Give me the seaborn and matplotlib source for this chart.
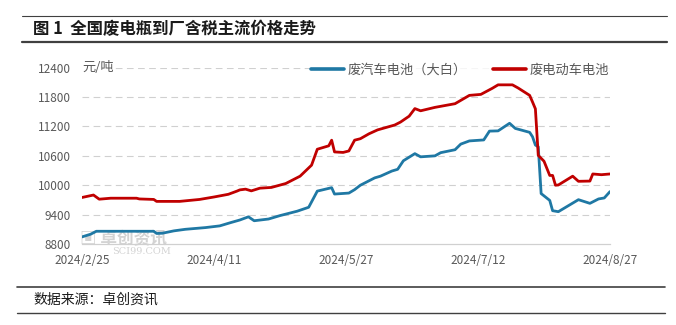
import matplotlib
matplotlib.use("Agg")
import matplotlib.pyplot as plt
from matplotlib.lines import Line2D
import pandas as pd
import seaborn as sns

# 废电动车电池 (red)
ev_dates = ["2024-02-25", "2024-02-29", "2024-03-02", "2024-03-06", "2024-03-15", "2024-03-16",
            "2024-03-21", "2024-03-22", "2024-03-30", "2024-04-06", "2024-04-11", "2024-04-16",
            "2024-04-19", "2024-04-20", "2024-04-22", "2024-04-24", "2024-04-27", "2024-05-01",
            "2024-05-06", "2024-05-11", "2024-05-15", "2024-05-17", "2024-05-21", "2024-05-22",
            "2024-05-23", "2024-05-26", "2024-05-28", "2024-05-30", "2024-06-01", "2024-06-04",
            "2024-06-07", "2024-06-13", "2024-06-15", "2024-06-18", "2024-06-20", "2024-06-22",
            "2024-06-27", "2024-07-04", "2024-07-09", "2024-07-13", "2024-07-17", "2024-07-19",
            "2024-07-24", "2024-07-26", "2024-07-30", "2024-07-31", "2024-08-01", "2024-08-02",
            "2024-08-04", "2024-08-06", "2024-08-07", "2024-08-08", "2024-08-09", "2024-08-14",
            "2024-08-16", "2024-08-20", "2024-08-21", "2024-08-24", "2024-08-27"]
ev_values = [9750, 9800, 9715, 9735, 9735, 9720,
             9710, 9670, 9670, 9710, 9760, 9815,
             9880, 9905, 9920, 9885, 9940, 9955,
             10035, 10185, 10410, 10735, 10805, 10920,
             10680, 10670, 10700, 10920, 10950, 11050,
             11130, 11230, 11290, 11410, 11565, 11520,
             11590, 11665, 11835, 11855, 11980, 12050,
             12050, 11985, 11835, 11700, 11560, 10610,
             10490, 10200, 10200, 10000, 10005, 10185,
             10080, 10085, 10230, 10215, 10230]

# 废汽车电池（大白） (blue)
car_dates = ["2024-02-25", "2024-02-28", "2024-03-01", "2024-03-21", "2024-03-22", "2024-03-24",
             "2024-03-28", "2024-04-01", "2024-04-08", "2024-04-13", "2024-04-17", "2024-04-20",
             "2024-04-23", "2024-04-25", "2024-04-30", "2024-05-04", "2024-05-10", "2024-05-14",
             "2024-05-17", "2024-05-22", "2024-05-23", "2024-05-28", "2024-05-30", "2024-06-01",
             "2024-06-06", "2024-06-08", "2024-06-12", "2024-06-14", "2024-06-16", "2024-06-20",
             "2024-06-22", "2024-06-27", "2024-06-29", "2024-07-04", "2024-07-06", "2024-07-09",
             "2024-07-14", "2024-07-16", "2024-07-19", "2024-07-23", "2024-07-25", "2024-07-30",
             "2024-07-31", "2024-08-01", "2024-08-02", "2024-08-03", "2024-08-06", "2024-08-07",
             "2024-08-09", "2024-08-11", "2024-08-16", "2024-08-20", "2024-08-23", "2024-08-25",
             "2024-08-27"]
car_values = [8945, 9000, 9060, 9060, 9015, 9020,
              9068, 9100, 9135, 9170, 9240, 9290,
              9355, 9275, 9310, 9380, 9470, 9550,
              9880, 9950, 9820, 9840, 9910, 10000,
              10150, 10185, 10290, 10325, 10500, 10645,
              10580, 10600, 10665, 10725, 10840, 10905,
              10925, 11105, 11110, 11265, 11160, 11080,
              10990, 10820, 10785, 9830, 9690, 9480,
              9460, 9530, 9705, 9630, 9720, 9740,
              9870]

series_names = ["废汽车电池（大白）", "废电动车电池"]
series_colors = ["#1F78A4", "#C00000"]
x_ticks = ["2024-02-25", "2024-04-11", "2024-05-27", "2024-07-12", "2024-08-27"]
x_tick_labels = ["2024/2/25", "2024/4/11", "2024/5/27", "2024/7/12", "2024/8/27"]
y_ticks = [8800, 9400, 10000, 10600, 11200, 11800, 12400]

df = pd.concat([
    pd.DataFrame({"date": pd.to_datetime(car_dates), "price": car_values, "series": series_names[0]}),
    pd.DataFrame({"date": pd.to_datetime(ev_dates), "price": ev_values, "series": series_names[1]}),
], ignore_index=True)

sns.set_style("white")
plt.rcParams["font.family"] = ["Noto Sans CJK SC", "DejaVu Sans"]

W, H = 676, 325
fig = plt.figure(figsize=(W / 100, H / 100), dpi=100)
ax = fig.add_axes([82 / W, 1 - 244 / H, (610 - 82) / W, (244 - 67.7) / H])

sns.lineplot(data=df, x="date", y="price", hue="series", hue_order=series_names,
             palette=dict(zip(series_names, series_colors)), linewidth=2.0,
             ax=ax, legend=False, zorder=3)

ax.set_xlim(pd.Timestamp(x_ticks[0]), pd.Timestamp(x_ticks[-1]))
ax.set_ylim(y_ticks[0], y_ticks[-1])
ax.set_yticks(y_ticks)
ax.set_yticklabels([str(v) for v in y_ticks])
ax.set_xticks(pd.to_datetime(x_ticks))
ax.set_xticklabels(x_tick_labels)
ax.set_xlabel("")
ax.set_ylabel("")

for v in y_ticks[1:]:
    ax.axhline(v, color="#D0D0D0", linewidth=0.8, linestyle=(0, (6, 4)), zorder=1)

for side in ["top", "right", "left"]:
    ax.spines[side].set_visible(False)
ax.spines["bottom"].set_color("#D0D0D0")
ax.spines["bottom"].set_linewidth(0.9)
ax.tick_params(axis="y", length=0, pad=8, labelsize=8.5, labelcolor="#595959")
ax.tick_params(axis="x", direction="out", length=3.5, width=0.8, color="#D0D0D0",
               pad=4, labelsize=8.5, labelcolor="#595959")

ax.text(0.0, 12400, "元/吨", transform=ax.get_yaxis_transform(), ha="left", va="center",
        fontsize=9.5, color="#595959", zorder=4,
        bbox=dict(facecolor="white", edgecolor="none", pad=1))

# watermark
ax.text(80 / W, 1 - 239 / H, "▣ 卓创资讯", transform=fig.transFigure, ha="left", va="center",
        fontsize=12, color="#C8C8C8", alpha=0.8, zorder=2, fontweight="bold")
ax.text(112 / W, 1 - 252 / H, "SCI99.COM", transform=fig.transFigure, ha="left", va="center",
        fontsize=7, color="#C8C8C8", alpha=0.8, zorder=2, family="DejaVu Serif")

handles = [Line2D([], [], color=c, linewidth=2.6) for c in series_colors]
leg = fig.legend(handles, series_names, loc="center left", bbox_to_anchor=(310 / W, 1 - 70 / H),
                 ncol=2, frameon=True, fontsize=9.5, handlelength=2.5, handletextpad=0.25,
                 columnspacing=2.0, borderpad=0.1, borderaxespad=0)
leg.get_frame().set_facecolor("white")
leg.get_frame().set_edgecolor("none")
for t in leg.get_texts():
    t.set_color("#595959")

# title block and source block
fig.add_artist(Line2D([22 / W, 667 / W], [1 - 15.5 / H] * 2, color="#404040", linewidth=0.8))
fig.add_artist(Line2D([22 / W, 667 / W], [1 - 41.5 / H] * 2, color="#404040", linewidth=1.6))
fig.text(33 / W, 1 - 29.5 / H, "图 1  全国废电瓶到厂含税主流价格走势", ha="left", va="center",
         fontsize=11.8, fontweight="bold", color="#1a1a1a")
fig.add_artist(Line2D([17 / W, 665 / W], [1 - 287 / H] * 2, color="#404040", linewidth=1.2))
fig.add_artist(Line2D([17 / W, 665 / W], [1 - 313 / H] * 2, color="#404040", linewidth=1.0))
fig.text(33 / W, 1 - 300 / H, "数据来源：卓创资讯", ha="left", va="center",
         fontsize=10, color="#1a1a1a")

fig.savefig("out.png", dpi=100)
